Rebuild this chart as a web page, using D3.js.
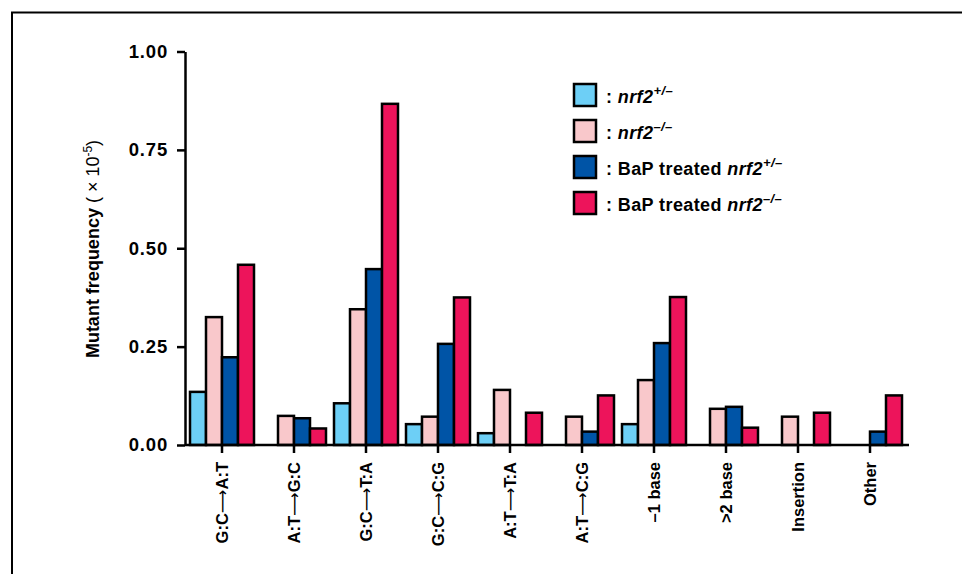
<!DOCTYPE html>
<html lang="en">
<head>
<meta charset="UTF-8">
<title>Mutant frequency</title>
<script src="https://d3js.org/d3.v7.min.js"></script>
<style>
    body { margin: 0; background: #fff; }
    svg { display: block; font-family: "Liberation Sans", Arial, Helvetica, sans-serif; }
    .axis path, .axis line { stroke: #000; stroke-width: 2.5px; }
    .axis text { fill: #000; font-weight: bold; }
    .bar { stroke: #000; stroke-width: 2.5px; }
</style>
</head>
<body>
<div id="chart"></div>
<script>
    // categories and series values (x 10^-5)
    var categories = ["G:C\u2192A:T", "A:T\u2192G:C", "G:C\u2192T:A", "G:C\u2192C:G", "A:T\u2192T:A",
                      "A:T\u2192C:G", "\u20131 base", ">2 base", "Insertion", "Other"];
    var hetControl = [0.135, 0, 0.106, 0.053, 0.030, 0, 0.053, 0, 0, 0];
    var nullControl = [0.325, 0.074, 0.345, 0.072, 0.140, 0.072, 0.165, 0.092, 0.072, 0];
    var hetBaP = [0.223, 0.068, 0.447, 0.257, 0, 0.034, 0.259, 0.097, 0, 0.034];
    var nullBaP = [0.458, 0.042, 0.867, 0.375, 0.082, 0.126, 0.376, 0.044, 0.082, 0.126];
    var yTicks = [0, 0.25, 0.5, 0.75, 1];

    var seriesPrefix = ["", "", "BaP treated ", "BaP treated "];
    var seriesSup = ["+/\u2013", "\u2013/\u2013", "+/\u2013", "\u2013/\u2013"];
    var colors = ["#6dcff6", "#f9c8cb", "#0054a6", "#ed145b"];
    var seriesValues = [hetControl, nullControl, hetBaP, nullBaP];

    var width = 962, height = 574;

    var svg = d3.select('#chart').append('svg')
        .attr('width', width)
        .attr('height', height);

    // frame (runs off the right and bottom edges)
    svg.append('rect')
        .attr('x', 12).attr('y', 12.5)
        .attr('width', 1000).attr('height', 600)
        .attr('fill', 'none').attr('stroke', '#000').attr('stroke-width', 2);

    var y = d3.scaleLinear().domain([0, 1]).range([445, 51.5]);

    // bar groups
    var xGroup = d3.scaleBand().domain(categories).range([190, 902])
        .paddingInner(8 / 72).paddingOuter(0);
    var xSub = d3.scaleBand().domain(d3.range(4)).range([0, xGroup.bandwidth()]);

    var groups = svg.selectAll('g.group')
        .data(categories)
        .enter().append('g')
        .attr('class', 'group')
        .attr('transform', function (d) { return 'translate(' + xGroup(d) + ',0)'; });

    groups.selectAll('rect')
        .data(function (d, i) {
            return seriesValues.map(function (s, k) { return { k: k, v: s[i] }; })
                .filter(function (e) { return e.v > 0; });
        })
        .enter().append('rect')
        .attr('class', 'bar')
        .attr('x', function (d) { return xSub(d.k); })
        .attr('y', function (d) { return y(d.v); })
        .attr('width', xSub.bandwidth())
        .attr('height', function (d) { return y(0) - y(d.v); })
        .attr('fill', function (d) { return colors[d.k]; });

    // y axis
    var yAxis = svg.append('g').attr('class', 'axis')
        .attr('transform', 'translate(185,0)')
        .call(d3.axisLeft(y).tickValues(yTicks).tickFormat(d3.format('.2f'))
            .tickSizeInner(8).tickSizeOuter(0).tickPadding(9));
    yAxis.selectAll('text').style('font-size', '18.5px').style('letter-spacing', '0.8px');

    // x axis
    var xAxis = svg.append('g').attr('class', 'axis')
        .attr('transform', 'translate(0,' + y(0) + ')')
        .call(d3.axisBottom(xGroup).tickSizeInner(8).tickSizeOuter(0).tickFormat(''));
    xAxis.select('.domain').remove();
    xAxis.append('line')
        .attr('x1', 185).attr('x2', xGroup.range()[1] + 7)
        .attr('stroke', '#000').attr('stroke-width', 3);

    svg.selectAll('text.xlabel')
        .data(categories)
        .enter().append('text')
        .attr('class', 'xlabel')
        .attr('transform', function (d) {
            return 'translate(' + (xGroup(d) + xGroup.bandwidth() / 2 + 6) + ',462) rotate(-90)';
        })
        .attr('text-anchor', 'end')
        .style('font-size', '16.5px')
        .style('font-weight', 'bold')
        .each(function (d) {
            var parts = d.split('\u2192');
            var t = d3.select(this);
            t.append('tspan').text(parts[0]);
            if (parts.length > 1) {
                t.append('tspan').style('font-weight', 'normal')
                    .style('font-family', '"DejaVu Sans", sans-serif').text('\u27f6');
                t.append('tspan').text(parts[1]);
            }
        });

    // y axis title
    var yTitle = svg.append('text')
        .attr('transform', 'translate(99,249) rotate(-90)')
        .attr('text-anchor', 'middle')
        .style('font-size', '18px');
    yTitle.append('tspan').style('font-weight', 'bold').text('Mutant frequency ');
    yTitle.append('tspan').text('( \u00d7 10');
    yTitle.append('tspan').attr('dy', -7).style('font-size', '12px').text('-5');
    yTitle.append('tspan').attr('dy', 7).text(')');

    // legend
    var legend = svg.selectAll('g.legend')
        .data(d3.range(4))
        .enter().append('g')
        .attr('class', 'legend')
        .attr('transform', function (d) { return 'translate(574,' + (84 + d * 36) + ')'; });

    legend.append('rect')
        .attr('width', 22).attr('height', 22)
        .attr('fill', function (d) { return colors[d]; })
        .attr('stroke', '#000').attr('stroke-width', 2.5);

    var lt = legend.append('text')
        .attr('x', 32).attr('y', 19)
        .style('font-size', '18px').style('font-weight', 'bold').style('letter-spacing', '0.4px');
    lt.append('tspan').text(function (d) { return ': ' + seriesPrefix[d]; });
    lt.append('tspan').style('font-style', 'italic').text('nrf2');
    lt.append('tspan').attr('dy', -8).style('font-size', '13px').style('font-style', 'italic')
        .text(function (d) { return seriesSup[d]; });
</script>
</body>
</html>
